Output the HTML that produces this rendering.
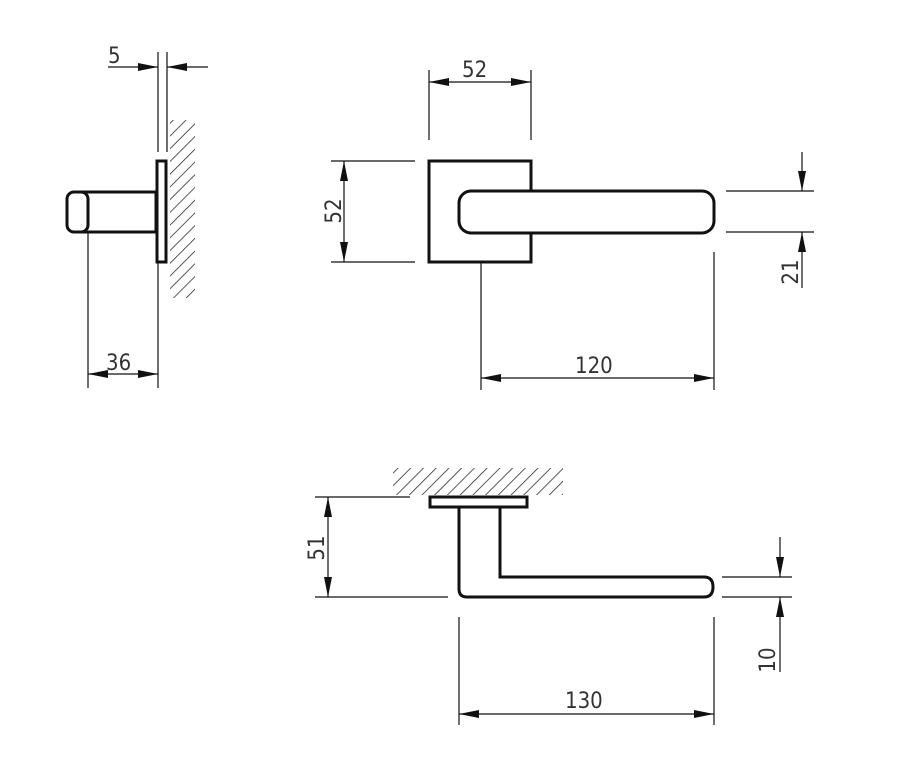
<!DOCTYPE html>
<html><head><meta charset="utf-8"><style>
html,body{margin:0;padding:0;background:#fff;}
svg{display:block;}
text{font-family:"DejaVu Sans Condensed","Liberation Sans Narrow","Liberation Sans",sans-serif;font-size:22px;fill:#333;font-weight:200;}
</style></head><body>
<svg width="910" height="774" viewBox="0 0 910 774" xmlns="http://www.w3.org/2000/svg">
<defs>
<pattern id="h" patternUnits="userSpaceOnUse" width="9" height="9" patternTransform="rotate(45)">
<line x1="0" y1="0" x2="0" y2="9" stroke="#222" stroke-width="1.5"/>
</pattern>
<marker id="a" viewBox="0 0 20 8" refX="20" refY="4" markerWidth="20" markerHeight="8" markerUnits="userSpaceOnUse" orient="auto-start-reverse">
<path d="M0,0 L20,4 L0,8 z" fill="#111"/>
</marker>
</defs>
<g stroke="#111" stroke-width="1.2" fill="none">
<!-- LEFT VIEW -->
<rect x="170" y="120" width="25" height="178" fill="url(#h)" stroke="none"/>
<line x1="158" y1="52" x2="158" y2="152"/>
<line x1="167" y1="52" x2="167" y2="152"/>
<line x1="108" y1="67" x2="158" y2="67" marker-end="url(#a)"/>
<line x1="208" y1="67" x2="167" y2="67" marker-end="url(#a)"/>
<line x1="88" y1="232" x2="88" y2="388"/>
<line x1="158" y1="262" x2="158" y2="388"/>
<line x1="88" y1="374" x2="158" y2="374" marker-start="url(#a)" marker-end="url(#a)"/>
</g>
<g stroke="#111" stroke-width="3" fill="#fff">
<line x1="80" y1="192" x2="157" y2="192"/>
<line x1="80" y1="232" x2="157" y2="232"/>
<line x1="156" y1="192" x2="156" y2="232"/>
<rect x="67" y="192" width="21" height="40" rx="7"/>
<rect x="157" y="161" width="9" height="101"/>
</g>
<text x="108" y="63">5</text>
<text x="106" y="370">36</text>

<!-- MIDDLE VIEW -->
<g stroke="#111" stroke-width="1.2" fill="none">
<line x1="429" y1="70" x2="429" y2="140"/>
<line x1="531" y1="70" x2="531" y2="140"/>
<line x1="429" y1="82" x2="531" y2="82" marker-start="url(#a)" marker-end="url(#a)"/>
<line x1="331" y1="161" x2="415" y2="161"/>
<line x1="331" y1="262" x2="415" y2="262"/>
<line x1="344" y1="161" x2="344" y2="262" marker-start="url(#a)" marker-end="url(#a)"/>
<line x1="481" y1="262" x2="481" y2="390"/>
<line x1="714" y1="252" x2="714" y2="390"/>
<line x1="481" y1="378" x2="714" y2="378" marker-start="url(#a)" marker-end="url(#a)"/>
<line x1="726" y1="191" x2="814" y2="191"/>
<line x1="726" y1="232" x2="814" y2="232"/>
<line x1="802" y1="152" x2="802" y2="191" marker-end="url(#a)"/>
<line x1="802" y1="288" x2="802" y2="232" marker-end="url(#a)"/>
</g>
<g stroke="#111" stroke-width="3" fill="#fff">
<rect x="429" y="161" width="102" height="101"/>
<rect x="459" y="191" width="255" height="42" rx="12"/>
</g>
<text x="462" y="77">52</text>
<text transform="translate(341,211) rotate(-90)" text-anchor="middle">52</text>
<text x="575" y="373">120</text>
<text transform="translate(798,272) rotate(-90)" text-anchor="middle">21</text>

<!-- BOTTOM VIEW -->
<rect x="393" y="468" width="170" height="27" fill="url(#h)"/>
<g stroke="#111" stroke-width="1.2" fill="none">
<line x1="315" y1="497" x2="410" y2="497"/>
<line x1="315" y1="597" x2="448" y2="597"/>
<line x1="328" y1="497" x2="328" y2="597" marker-start="url(#a)" marker-end="url(#a)"/>
<line x1="722" y1="577" x2="792" y2="577"/>
<line x1="722" y1="597" x2="792" y2="597"/>
<line x1="780" y1="537" x2="780" y2="577" marker-end="url(#a)"/>
<line x1="780" y1="672" x2="780" y2="597" marker-end="url(#a)"/>
<line x1="459" y1="617" x2="459" y2="725"/>
<line x1="714" y1="617" x2="714" y2="725"/>
<line x1="459" y1="714" x2="714" y2="714" marker-start="url(#a)" marker-end="url(#a)"/>
</g>
<g stroke="#111" stroke-width="3" fill="#fff">
<path d="M459,507 L459,589 Q459,597 467,597 L704,597 Q713,597 713,587 Q713,577 704,577 L500,577 L500,507"/>
<rect x="430" y="497" width="97" height="10"/>
</g>
<text transform="translate(324,548) rotate(-90)" text-anchor="middle">51</text>
<text transform="translate(775,660) rotate(-90)" text-anchor="middle">10</text>
<text x="565" y="708">130</text>
</svg>
</body></html>
